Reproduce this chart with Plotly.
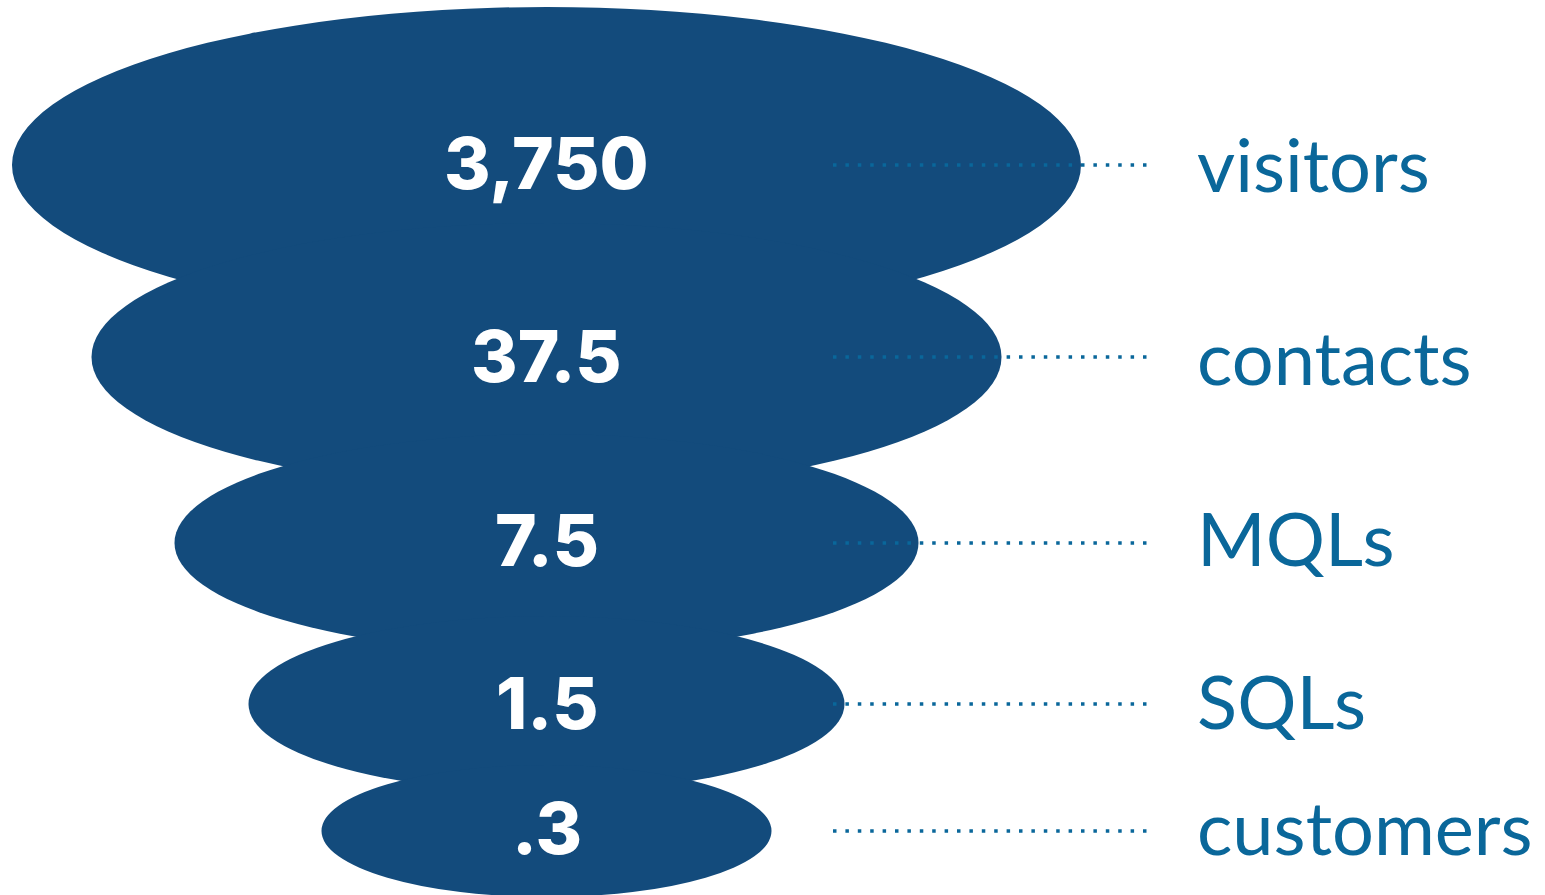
import plotly.graph_objects as go

# Data
stages = ["visitors", "contacts", "MQLs", "SQLs", "customers"]
values = ["3,750", "37.5", "7.5", "1.5", ".3"]

# Style / geometry (pixel space)
cx = 546.5
half_w = [534.5, 455, 372, 298, 225]
half_h = [158, 134, 109, 88, 66]
cy = [165, 357, 543, 704, 831]
num_y = [163, 356, 540, 703, 828]
lab_y = [163, 356, 537, 700, 826]
line_x0, line_x1 = 833, 1147
label_x = 1195

fill = "#134b7c"
blue = "#0a679a"

fig = go.Figure()

shapes = []
for i in range(len(stages)):
    shapes.append(dict(type="circle", xref="x", yref="y",
                       x0=cx - half_w[i], x1=cx + half_w[i],
                       y0=cy[i] - half_h[i], y1=cy[i] + half_h[i],
                       fillcolor=fill, line=dict(width=0), layer="below"))

for i, s in enumerate(stages):
    fig.add_trace(go.Scatter(x=[line_x0, line_x1], y=[cy[i], cy[i]], mode="lines",
                             line=dict(color=blue, width=3.5, dash="3.5px,8.9px"),
                             hoverinfo="skip", showlegend=False))

annotations = []
for i, s in enumerate(stages):
    annotations.append(dict(x=cx, y=num_y[i], xref="x", yref="y", text=values[i],
                            showarrow=False, xanchor="center", yanchor="middle",
                            font=dict(family="Inter", size=71, color="white", weight=800)))
    annotations.append(dict(x=label_x, y=lab_y[i], xref="x", yref="y", text=s,
                            showarrow=False, xanchor="left", yanchor="middle",
                            font=dict(family="Lato", size=74, color=blue)))

fig.update_layout(
    width=1545, height=895,
    margin=dict(l=0, r=0, t=0, b=0),
    paper_bgcolor="white", plot_bgcolor="white",
    xaxis=dict(range=[0, 1545], visible=False, fixedrange=True),
    yaxis=dict(range=[895, 0], visible=False, fixedrange=True),
    shapes=shapes, annotations=annotations,
)

fig.write_html("out.html")
